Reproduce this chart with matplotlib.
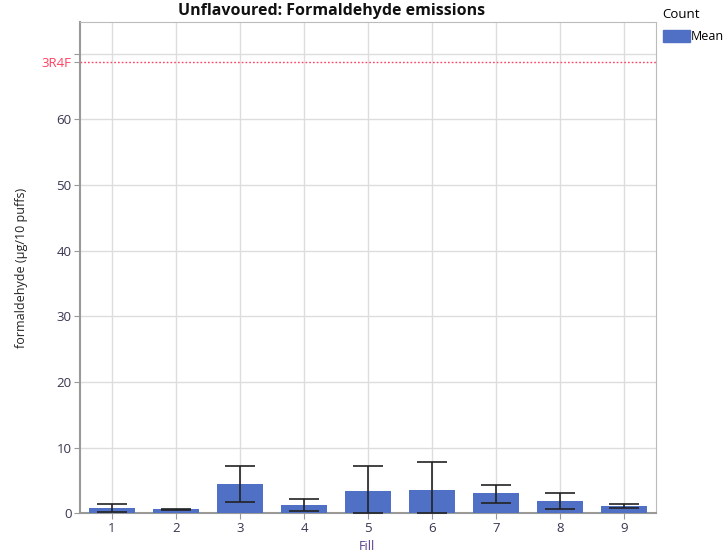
import matplotlib.pyplot as plt
from matplotlib.patches import Patch
import numpy as np

plt.rcParams['font.family'] = ['Open Sans', 'DejaVu Sans']

fills = ['1', '2', '3', '4', '5', '6', '7', '8', '9']
means = [0.76, 0.6, 4.46, 1.26, 3.4, 3.55, 3.04, 1.87, 1.16]
err_low = [0.15, 0.5, 1.67, 0.4, 0.0, 0.0, 1.6, 0.6, 0.8]
err_high = [1.37, 0.7, 7.16, 2.18, 7.16, 7.8, 4.3, 3.04, 1.46]
ref_3r4f = 68.7

bar_col = '#4f70c4'
ref_col = '#ff4060'
txt_col = '#3a3550'

fig = plt.figure(figsize=(7.28, 5.52), dpi=100)
ax = fig.add_axes([80 / 728, 1 - 513.3 / 552, 576 / 728, 491.3 / 552])

x = np.arange(1, len(fills) + 1)
means = np.array(means)
yerr = [means - np.array(err_low), np.array(err_high) - means]
ax.bar(x, means, width=0.72, color=bar_col, zorder=3)
ax.errorbar(x, means, yerr=yerr, fmt='none', ecolor='#222222', elinewidth=1.2,
            capsize=11, capthick=1.2, zorder=4)

ax.axhline(ref_3r4f, color=ref_col, ls=(0, (1.2, 1.5)), lw=1, zorder=2)

ax.set_xlim(0.5, 9.5)
ax.set_ylim(0, 74.8)
ax.set_xticks(x)
ax.set_xticklabels(fills)
yt = [0, 10, 20, 30, 40, 50, 60, 70]
ax.set_yticks(yt + [ref_3r4f])
ax.set_yticklabels([str(v) for v in yt[:-1]] + ['', '3R4F'])

ax.grid(True, color='#dddddd', lw=1, zorder=0)
ax.yaxis.get_gridlines()[-1].set_visible(False)
ax.tick_params(colors='#999999', labelcolor=txt_col, labelsize=9.5, length=4, pad=2)
ax.get_yticklabels()[-1].set_color(ref_col)
ax.get_yticklines()[-2].set_color(ref_col)
for s in ax.spines.values():
    s.set_color('#bbbbbb')
for s in ['left', 'bottom']:
    ax.spines[s].set_color('#999999')
    ax.spines[s].set_linewidth(1.5)

ax.set_xlabel('Fill', color='#5a3c8c', fontsize=9)
ax.xaxis.set_label_coords((367 - 80) / 576, -(540 - 513.3) / 491.3)
ax.set_ylabel('formaldehyde (µg/10 puffs)', color='#222222', fontsize=9)
ax.yaxis.set_label_coords(-(80 - 28) / 576, 0.5)

fig.text(332 / 728, 1 - 11 / 552, 'Unflavoured: Formaldehyde emissions',
         ha='center', va='center', fontsize=11.5, fontweight='bold', color='#111111')

fig.legend(handles=[Patch(color=bar_col, label='Mean')], title='Count',
           loc='upper left', bbox_to_anchor=(660 / 728, 1 - 6 / 552),
           frameon=False, fontsize=9, title_fontsize=9.5,
           handlelength=2.2, handleheight=1.1, handletextpad=0.05,
           borderpad=0.2, borderaxespad=0, labelspacing=0.7, alignment='left')

fig.savefig('out.png', dpi=100)
